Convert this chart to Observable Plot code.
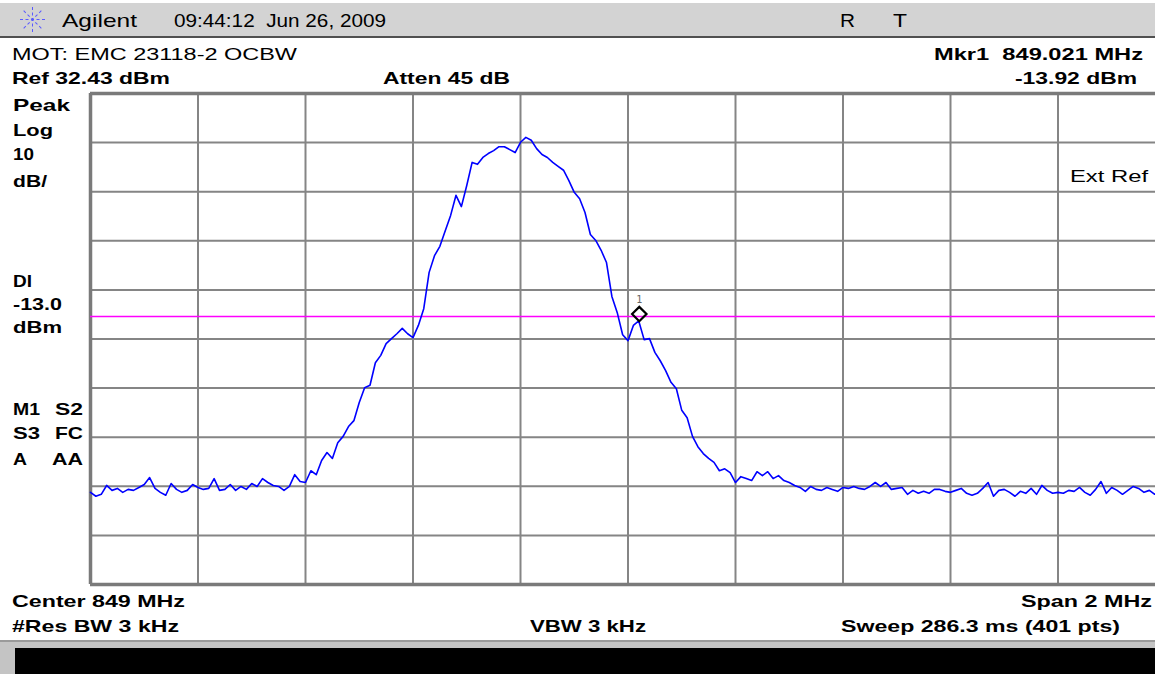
<!DOCTYPE html>
<html>
<head>
<meta charset="utf-8">
<script src="https://cdn.jsdelivr.net/npm/d3@7"></script>
<script src="https://cdn.jsdelivr.net/npm/@observablehq/plot@0.6"></script>
<style>
  html, body { margin: 0; padding: 0; width: 1155px; height: 674px; overflow: hidden; background: #fff; }
  #page { position: relative; width: 1155px; height: 674px; overflow: hidden; font-family: "Liberation Sans", Arial, sans-serif; }
  #topbar { position: absolute; left: 0; top: 3px; width: 1155px; height: 33px; background: #d3d3d3; border-bottom: 2px solid #505050; }
  #chartwrap { position: absolute; left: 0; top: 88px; width: 1165px; height: 501px; }
  .lbl { position: absolute; white-space: pre; line-height: 1; color: #000; transform-origin: 0 0; }
  .ray { position: absolute; left: 20px; top: 19px; width: 25px; height: 0; border-top: 1.5px dashed #5a5aff; transform-origin: 50% 50%; }
  #botbar { position: absolute; left: 0; top: 640px; width: 1155px; height: 34px; background: #c4c4c4; border-top: 2px solid #9a9a9a; }
  #blackbar { position: absolute; left: 15px; top: 648px; width: 1140px; height: 26px; background: #000; }
</style>
</head>
<body>
<div id="page">
  <div id="topbar"></div>
  <div class="ray" style="transform: rotate(0deg)"></div>
  <div class="ray" style="transform: rotate(45deg)"></div>
  <div class="ray" style="transform: rotate(90deg)"></div>
  <div class="ray" style="transform: rotate(135deg)"></div>
  <div id="chartwrap"></div>
  <div id="botbar"></div>
  <div id="blackbar"></div>
</div>
<script>
// ---- instrument settings ----
const refLevel = 32.43;      // dBm, top of screen
const dbPerDiv = 10;
const nDiv = 10;
const centerMHz = 849;
const spanMHz = 2;
const stepMHz = 0.01;        // spacing of the read trace samples
const displayLineDbm = -13.0;

// ---- marker ----
const markerMHz = [849.021];
const markerDbm = [-13.92];
const markerLabel = ["1"];

// ---- trace values (dBm), 848.00 .. 850.00 MHz ----
const traceDbm = [
  -48.8, -49.6, -49.2, -47.4, -48.4, -48.0, -48.8, -48.2, -48.4, -47.8,
  -47.2, -45.8, -48.0, -48.8, -49.4, -47.0, -48.2, -48.8, -48.4, -47.2,
  -47.8, -48.2, -48.0, -46.0, -48.4, -48.2, -47.2, -48.4, -47.6, -48.2,
  -47.0, -47.6, -46.0, -46.8, -47.4, -47.6, -48.4, -47.6, -45.2, -46.6,
  -46.8, -44.4, -45.2, -42.3, -40.7, -41.9, -38.7, -37.4, -35.4, -34.2,
  -30.5, -27.5, -27.0, -22.4, -20.9, -18.5, -17.5, -16.5, -15.4, -16.5,
  -17.3, -14.8, -11.4, -4.0, -0.6, 1.3, 4.5, 7.6, 11.7, 9.4,
  13.7, 18.4, 18.0, 19.4, 20.2, 20.8, 21.6, 21.6, 21.0, 20.4,
  22.5, 23.5, 22.9, 21.2, 20.0, 19.4, 18.4, 17.6, 16.8, 14.7,
  12.3, 11.0, 8.2, 3.7, 2.5, 0.5, -2.0, -8.9, -12.2, -16.7,
  -17.9, -14.8, -13.9, -17.7, -17.5, -20.3, -22.0, -24.0, -26.4, -27.7,
  -32.1, -33.6, -37.4, -39.5, -40.9, -41.9, -42.7, -44.4, -44.0, -44.8,
  -46.8, -45.6, -46.0, -46.4, -44.6, -45.4, -44.6, -46.0, -45.4, -46.4,
  -46.8, -47.4, -47.8, -48.6, -47.6, -48.2, -48.4, -47.8, -48.2, -48.6,
  -47.8, -48.0, -47.6, -48.0, -48.2, -47.6, -46.8, -47.6, -46.8, -48.2,
  -48.0, -47.8, -49.2, -48.4, -49.0, -48.6, -49.0, -48.2, -48.2, -48.6,
  -48.8, -48.4, -48.0, -49.0, -49.4, -49.0, -48.0, -46.8, -49.6, -48.4,
  -48.2, -48.8, -49.6, -48.6, -49.0, -48.0, -49.2, -47.4, -48.4, -49.0,
  -48.8, -49.0, -48.4, -48.6, -47.8, -48.8, -49.4, -48.2, -46.6, -49.0,
  -47.8, -48.4, -49.2, -48.4, -47.6, -48.0, -48.8, -48.4, -49.2, -48.6,
  -48.4
];

// ---- screen annotations ----
const headerTexts = ["Agilent", "09:44:12  Jun 26, 2009", "R", "T"];
const infoTexts = ["MOT: EMC 23118-2 OCBW", "Mkr1  849.021 MHz", "Ref 32.43 dBm", "Atten 45 dB", "-13.92 dBm"];
const sideTexts = ["Peak", "Log", "10", "dB/", "DI", "-13.0", "dBm", "M1", "S2", "S3", "FC", "A", "AA"];
const footerTexts = ["Center 849 MHz", "Span 2 MHz", "#Res BW 3 kHz", "VBW 3 kHz", "Sweep 286.3 ms (401 pts)"];
const extRefText = "Ext Ref";

// ---- derived ----
const startMHz = centerMHz - spanMHz / 2;
const stopMHz = centerMHz + spanMHz / 2;
const bottomLevel = refLevel - dbPerDiv * nDiv;
const xGrid = d3.range(1, nDiv).map(k => startMHz + k * spanMHz / nDiv);
const yGrid = d3.range(1, nDiv).map(k => refLevel - k * dbPerDiv);
const trace = traceDbm.map((v, i) => ({f: startMHz + i * stepMHz, v}));
const marker = markerMHz.map((f, i) => ({f, v: markerDbm[i], t: markerLabel[i]}));

const chart = Plot.plot({
  width: 1165,
  height: 501,
  marginLeft: 90,
  marginRight: 0,
  marginTop: 5,
  marginBottom: 5,
  x: {domain: [startMHz, stopMHz], axis: null},
  y: {domain: [bottomLevel, refLevel], axis: null},
  style: "max-width:none;background:transparent;overflow:visible;",
  marks: [
    Plot.ruleX(xGrid, {stroke: "#858585", strokeWidth: 2}),
    Plot.ruleY(yGrid, {stroke: "#858585", strokeWidth: 2}),
    Plot.ruleX([startMHz], {stroke: "#7a7a7a", strokeWidth: 3.5}),
    Plot.ruleY([refLevel, bottomLevel], {stroke: "#7a7a7a", strokeWidth: 3.5}),
    Plot.ruleY([displayLineDbm], {stroke: "#ff00ff", strokeWidth: 1.5}),
    Plot.line(trace, {x: "f", y: "v", stroke: "#0000ff", strokeWidth: 1.6}),
    Plot.dot(marker, {x: "f", y: "v", symbol: "diamond2", r: 6.5, stroke: "#000", strokeWidth: 2.2, fill: "none", dy: -7}),
    Plot.text(marker, {x: "f", y: "v", text: "t", dy: -21, fill: "#666", fontSize: 10, fontFamily: "DejaVu Sans Mono"})
  ]
});
document.getElementById("chartwrap").appendChild(chart);

// ---- text layout ----
const page = document.getElementById("page");
function place(text, left, baseline, fs, bold, w) {
  const s = document.createElement("span");
  s.className = "lbl";
  s.textContent = text;
  s.style.left = left + "px";
  s.style.top = (baseline - 0.8465 * fs) + "px";
  s.style.fontSize = fs + "px";
  s.style.fontWeight = bold ? "bold" : "normal";
  page.appendChild(s);
  if (w) {
    const nat = s.getBoundingClientRect().width;
    if (nat > 0) s.style.transform = "scaleX(" + (w / nat) + ")";
  }
}
place(headerTexts[0], 62, 27, 19, false, 75);
place(headerTexts[1], 174, 27, 19, false, 212);
place(headerTexts[2], 840, 27, 19, false, 15);
place(headerTexts[3], 893, 27, 19, false, 14);

place(infoTexts[0], 12, 60, 17, false, 285);
place(infoTexts[1], 934, 60, 17, true, 209);
place(infoTexts[2], 12, 84, 17, true, 158);
place(infoTexts[3], 383, 84, 17, true, 127);
place(infoTexts[4], 1015, 84, 17, true, 122);

place(sideTexts[0], 13, 111, 17, true, 57);
place(sideTexts[1], 13, 136, 17, true, 40);
place(sideTexts[2], 13, 160, 17, true, 21);
place(sideTexts[3], 13, 187, 17, true, 34);
place(sideTexts[4], 13, 287, 17, true, 19);
place(sideTexts[5], 13, 310, 17, true, 49);
place(sideTexts[6], 13, 333, 17, true, 49);
place(sideTexts[7], 13, 415, 17, true, 27);
place(sideTexts[8], 55, 415, 17, true, 28);
place(sideTexts[9], 13, 439, 17, true, 27);
place(sideTexts[10], 55, 439, 17, true, 28);
place(sideTexts[11], 13, 465, 17, true, 14);
place(sideTexts[12], 52, 465, 17, true, 31);

place(extRefText, 1070, 182, 17, false, 78);

place(footerTexts[0], 12, 607, 17, true, 173);
place(footerTexts[1], 1021, 607, 17, true, 131);
place(footerTexts[2], 12, 632, 17, true, 167);
place(footerTexts[3], 530, 632, 17, true, 116);
place(footerTexts[4], 841, 632, 17, true, 279);
</script>
</body>
</html>
